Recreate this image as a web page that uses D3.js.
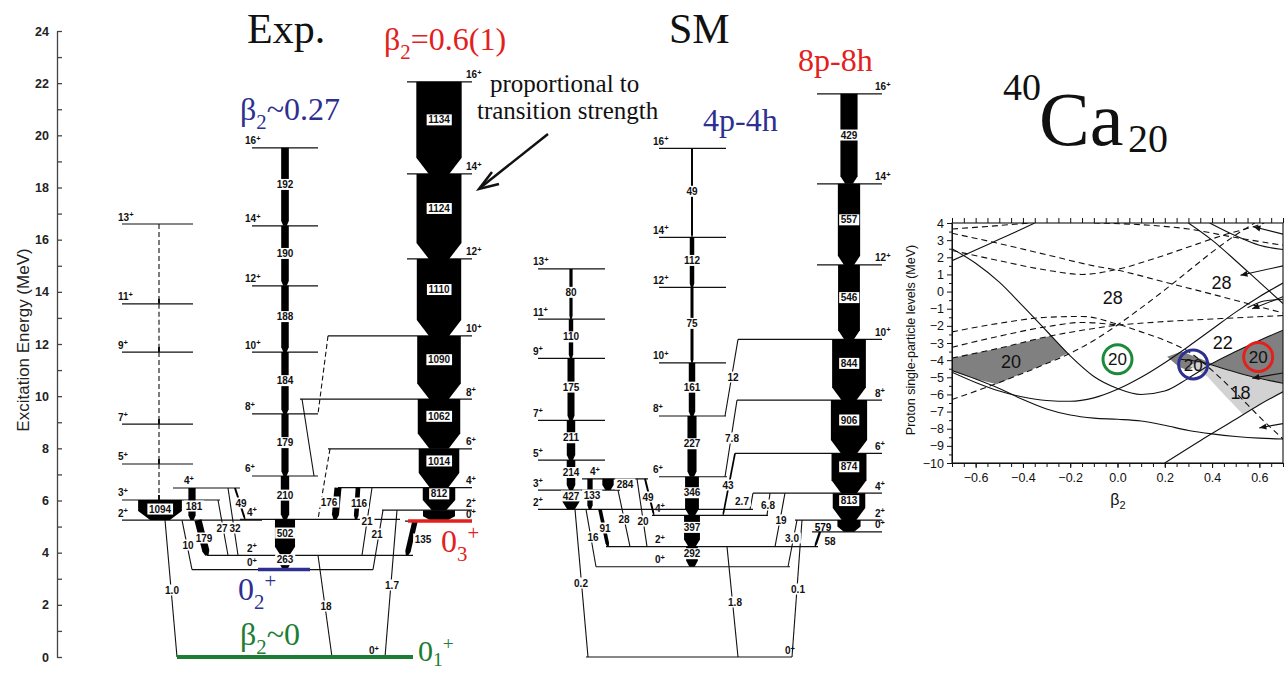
<!DOCTYPE html>
<html>
<head>
<meta charset="utf-8">
<script src="https://cdn.jsdelivr.net/npm/d3@7/dist/d3.min.js"></script>
<style>
html,body{margin:0;padding:0;background:#fff;}
svg{display:block;}
</style>
</head>
<body>
<svg id="chart" width="1286" height="673"></svg>
<script>
// ===================== level energies (MeV), spins, B(E2) (W.u.) =====================
const energyTickValues = d3.range(0, 25, 2);
const energyMinorTicks = d3.range(1, 24, 2);
const bandSpins = ["0+","2+","4+","6+","8+","10+","12+","14+","16+"];

// experiment
const expSideSpins = ["2+","3+","5+","7+","9+","11+","13+"];
const expSideE     = [5.25, 6.02, 7.40, 8.93, 11.69, 13.54, 16.60];
const expSide4Spins = ["4+"];
const expSide4E     = [6.48];
const expNDE   = [3.35, 3.90, 5.28, 6.94, 9.32, 11.69, 14.23, 16.53, 19.52];
const expNDBE2 = [263, 502, 210, 179, 184, 188, 190, 192];          // 2->0, 4->2, ...
const expNDLabels = ["263","502","210","179","184","188","190","192"];
const expSDE   = [5.21, 5.63, 6.49, 7.98, 9.89, 12.31, 15.26, 18.52, 22.05];
const expSDBE2 = [800, 812, 1014, 1062, 1090, 1110, 1124, 1134];
const expSDLabels = ["", "812","1014","1062","1090","1110","1124","1134"];
const expGroundE = [0];

// shell model
const smSideSpins = ["2+","3+","5+","7+","9+","11+","13+"];
const smSideE     = [5.66, 6.40, 7.55, 9.07, 11.45, 12.95, 14.88];
const smSideBE2   = [427, 214, 211, 175, 110, 80];                   // 3->2, 5->3, ...
const smSide4Spins = ["4+"];
const smSide4E     = [6.83];
const smNDE   = [3.46, 4.23, 5.43, 6.91, 9.24, 11.28, 14.17, 16.09, 19.50];
const smNDBE2 = [292, 397, 346, 227, 161, 75, 112, 49];
const smSDE   = [4.80, 5.25, 6.28, 7.81, 9.85, 12.18, 15.03, 18.14, 21.59];
const smSDBE2 = [579, 813, 874, 906, 844, 546, 557, 429];
const smGroundE = [0];

// transitions between bands: [from band, spin, to band, spin, B(E2), label, dashed]
const expLinks = [
  ["eS","3+","eS","2+",1094,"1094",false],
  ["eS4","4+","eS","2+",181,"181",false],
  ["eS","2+","eG","0+",1.0,"1.0",false],
  ["eS","2+","eN","0+",10,"10",false],
  ["eS","2+","eN","2+",179,"179",false],
  ["eS","3+","eN","2+",27,"27",false],
  ["eS4","4+","eN","2+",32,"32",false],
  ["eS4","4+","eN","4+",49,"49",false],
  ["eN","2+","eG","0+",18,"18",false],
  ["eD","4+","eN","4+",176,"176",false],
  ["eD","4+","eN","4+",116,"116",false],
  ["eD","4+","eN","2+",21,"21",false],
  ["eD","2+","eN","0+",21,"21",false],
  ["eD","2+","eG","0+",1.7,"1.7",false],
  ["eD","0+","eN","2+",135,"135",false],
  ["eD","6+","eN","4+",0,"",true],
  ["eD","8+","eN","6+",0,"",false],
  ["eD","10+","eN","8+",0,"",true]
];
const smLinks = [
  ["sS4","4+","sS","2+",133,"133",false],
  ["sS4","4+","sS","3+",284,"284",false],
  ["sS","2+","sG","0+",0.2,"0.2",false],
  ["sS","2+","sN","0+",16,"16",false],
  ["sS","2+","sN","2+",91,"91",false],
  ["sS","3+","sN","2+",28,"28",false],
  ["sS4","4+","sN","2+",20,"20",false],
  ["sS4","4+","sN","4+",49,"49",false],
  ["sN","2+","sG","0+",1.8,"1.8",false],
  ["sD","10+","sN","8+",12,"12",false],
  ["sD","8+","sN","6+",7.8,"7.8",false],
  ["sD","6+","sN","4+",43,"43",false],
  ["sD","4+","sS","2+",2.7,"2.7",false],
  ["sD","4+","sN","4+",6.8,"6.8",false],
  ["sD","4+","sN","2+",19,"19",false],
  ["sD","2+","sN","0+",3.0,"3.0",false],
  ["sD","2+","sG","0+",0.1,"0.1",false],
  ["sD","0+","sN","2+",58,"58",false]
];

// Nilsson diagram (beta2, MeV)
const nilssonSolid = [
  [[-0.7,1.8],[-0.6,2.42],[-0.5,3.05],[-0.42,3.55],[-0.35,4.0]],
  [[-0.7,2.5],[-0.6,1.65],[-0.5,0.55],[-0.4,-0.85],[-0.3,-2.3],[-0.2,-3.75],[-0.1,-4.95],[0,-5.65],[0.1,-6.0],[0.2,-5.8],[0.3,-5.05],[0.4,-4.2],[0.5,-3.5],[0.6,-2.85],[0.7,-2.25]],
  [[-0.7,-4.7],[-0.6,-5.3],[-0.5,-5.8],[-0.4,-6.15],[-0.3,-6.35],[-0.2,-6.4],[-0.1,-6.2],[0,-5.7],[0.1,-5.0],[0.2,-4.15],[0.3,-3.2],[0.4,-2.2],[0.5,-1.2],[0.6,-0.3],[0.7,0.5]],
  [[-0.7,-4.6],[-0.6,-5.1],[-0.5,-5.65],[-0.4,-6.3],[-0.3,-6.85],[-0.2,-7.2],[-0.1,-7.38],[0,-7.45],[0.1,-7.55],[0.2,-7.8],[0.3,-8.1],[0.4,-8.3],[0.5,-8.45],[0.6,-8.55],[0.7,-8.6]],
  [[0.2,-10],[0.35,-8.7],[0.5,-7.45],[0.6,-6.6],[0.7,-5.85]],
  [[0.3,4.0],[0.4,3.0],[0.5,1.8],[0.6,0.55],[0.7,-0.7]],
  [[0.39,4.0],[0.5,3.25],[0.6,2.7],[0.7,2.45]],
  [[0.26,-3.95],[0.35,-4.1],[0.45,-4.5],[0.55,-4.9],[0.7,-5.35]],
  [[0.55,-0.95],[0.62,-0.55],[0.7,-0.45]]
];
const nilssonDashed = [
  [[-0.7,3.65],[-0.55,3.8],[-0.37,4.0]],
  [[-0.7,3.4],[-0.5,2.8],[-0.3,2.15],[-0.1,1.5],[0,1.25],[0.2,0.55],[0.4,-0.15],[0.55,-0.7],[0.7,-1.25]],
  [[-0.7,2.4],[-0.5,1.8],[-0.3,1.25],[-0.15,1.0],[0,1.3],[0.15,1.9],[0.3,2.6],[0.45,3.3],[0.6,3.9],[0.62,4.0]],
  [[-0.1,4.0],[0.1,3.9],[0.3,3.65],[0.5,3.15],[0.7,2.7]],
  [[-0.7,-6.3],[-0.5,-5.3],[-0.3,-4.2],[-0.2,-3.6],[-0.1,-2.85],[0,-1.95],[0.1,-0.95],[0.2,0.1],[0.3,1.2],[0.4,2.3],[0.5,3.3],[0.58,4.0]],
  [[-0.7,-2.35],[-0.5,-1.85],[-0.3,-1.5],[-0.15,-1.45],[0,-1.9],[0.1,-2.35],[0.2,-2.85],[0.3,-3.5],[0.4,-4.6],[0.5,-5.9],[0.6,-7.3],[0.7,-8.6]],
  [[-0.7,-3.25],[-0.5,-2.6],[-0.3,-2.05],[-0.15,-1.8],[0,-1.95]],
  [[0,-1.95],[0.2,-1.75],[0.4,-1.6],[0.7,-1.4]],
  [[-0.7,-3.88],[-0.5,-3.3],[-0.28,-2.58],[-0.1,-2.15],[0,-1.95]]
];
const gapDark = [
  [[-0.7,-3.88],[-0.5,-3.3],[-0.28,-2.58],[-0.24,-3.15],[-0.21,-3.6],[-0.3,-4.2],[-0.4,-4.75],[-0.51,-5.4],[-0.6,-5.1],[-0.7,-4.65]],
  [[0.21,-3.8],[0.27,-3.5],[0.33,-3.8],[0.4,-4.2],[0.5,-3.5],[0.6,-2.85],[0.7,-2.25],[0.7,-5.35],[0.55,-4.9],[0.45,-4.5],[0.35,-4.1],[0.3,-4.6],[0.26,-4.4]]
];
const gapLight = [
  [[0.3,-4.3],[0.35,-4.1],[0.45,-4.5],[0.55,-4.9],[0.7,-5.35],[0.7,-5.85],[0.6,-6.6],[0.53,-7.15],[0.45,-6.0],[0.38,-4.95]]
];
const gapLabels = [["28",-0.02,-0.35],["28",0.44,0.5],["22",0.445,-3.0],["20",-0.45,-4.1],["18",0.52,-5.9]];
const circledGaps = [["20",0.0,-3.95,"#1d8a3a"],["20",0.32,-4.25,"#2d2f91"],["20",0.595,-3.82,"#e3211c"]];
const nilssonArrows = [
  [[0.7,3.35],[0.575,3.78]],
  [[0.7,1.5],[0.52,0.95]],
  [[0.7,-0.3],[0.57,-1.0]],
  [[0.7,-4.75],[0.57,-5.05]],
  [[0.7,-7.7],[0.6,-7.95]]
];
const betaTicks = [-0.6,-0.4,-0.2,0.0,0.2,0.4,0.6];
const levelTicks = d3.range(-10, 5, 1);

// ===================== drawing =====================
const SANS = '"Liberation Sans", Arial, Helvetica, sans-serif';
const SERIF = '"Liberation Serif", "Times New Roman", serif';
const BLUE = "#2d2f91", RED = "#e3211c", GREEN = "#1d7d33";

const svg = d3.select("#chart");
const yE = d3.scaleLinear().domain([0, 24]).range([657, 31]);
const wB = d3.scaleLinear().domain([0, 1000]).range([0, 40]);   // line width ~ transition strength

// energy axis
const axG = svg.append("g").attr("transform", "translate(57,0)");
axG.call(d3.axisLeft(yE).tickValues(energyTickValues).tickSize(-5).tickSizeOuter(0).tickPadding(8).tickFormat(d3.format("d")));
axG.append("g").call(d3.axisLeft(yE).tickValues(energyMinorTicks).tickSize(-5).tickSizeOuter(0).tickFormat(""))
   .call(g => g.select(".domain").remove());
axG.selectAll("path,line").attr("stroke", "#444").attr("stroke-width", 1.3);
axG.selectAll("text").attr("font-family", SANS).attr("font-size", 12.5).attr("font-weight", "bold").attr("fill", "#222");
svg.append("text").attr("transform", "translate(29,340) rotate(-90)")
   .attr("text-anchor", "middle").attr("font-family", SANS).attr("font-size", 17).attr("fill", "#222")
   .text("Excitation Energy (MeV)");

// band registry
const levels = {};
function addBand(key, spins, Es) { levels[key] = {}; spins.forEach((s, i) => levels[key][s] = Es[i]); }
addBand("eS", expSideSpins, expSideE);
addBand("eS4", expSide4Spins, expSide4E);
addBand("eN", bandSpins, expNDE);
addBand("eD", bandSpins, expSDE);
addBand("eG", ["0+"], expGroundE);
addBand("sS", smSideSpins, smSideE);
addBand("sS4", smSide4Spins, smSide4E);
addBand("sN", bandSpins, smNDE);
addBand("sD", bandSpins, smSDE);
addBand("sG", ["0+"], smGroundE);

const bandLayout = {
  eS: {x1:122, x2:193, cx:160, lx:118}, eS4: {x1:173, x2:240, lx:184},
  eN: {x1:252, x2:318, cx:285, lx:245}, eD: {x1:407, x2:472, cx:439, lx:466},
  eG: {x1:177, x2:413, lx:369},
  sS: {x1:538, x2:605, cx:571, lx:533}, sS4: {x1:582, x2:648, lx:590},
  sN: {x1:659, x2:726, cx:692, lx:653}, sD: {x1:817, x2:882, cx:849, lx:875},
  sG: {x1:586, x2:792, lx:785}
};
const levelExtent = {
  "eS:2+":[122,262], "eS:3+":[122,220], "eN:0+":[192,373], "eN:2+":[207,413], "eN:4+":[240,400],
  "eD:0+":[405,472], "eD:2+":[382,472], "eD:4+":[338,472], "eD:6+":[328,472], "eD:8+":[300,472], "eD:10+":[328,472],
  "sS:2+":[538,753], "sS:3+":[538,620], "sN:0+":[596,790], "sN:2+":[606,818], "sN:4+":[652,768], "sN:6+":[659,727],
  "sD:0+":[812,882], "sD:2+":[795,882], "sD:4+":[753,882], "sD:6+":[735,882], "sD:8+":[737,882], "sD:10+":[738,882]
};
const levelLabelX = {"eN:0+":247, "eN:2+":247, "eN:4+":247, "sN:0+":655, "sN:2+":655, "sN:4+":655};
const linkX = {
  exp: [[160,160],[192,192],[165,177],[182,192],[198,207],[218,228],[228,238],[235,245],[318,332],[338,335],[358,356],[372,362],[383,373],[397,385],[415,407],[330,318],[302,314],[328,318]],
  sm:  [[590,590],[608,608],[575,588],[586,596],[600,608],[618,630],[637,647],[645,654],[727,738],[738,725],[737,725],[735,723],[753,750],[770,767],[785,775],[797,788],[802,792],[820,815]]
};
const linkLabelPos = {
  exp: [null,[194,506],[172,590],[188,545],[204,538],[222,528],[235,528],[241,503],[326,606],[329,502],[359,503],[367,521],[377,534],[392,585],[423,539],null,null,null],
  sm:  [[592,495],[625,484],[581,583],[593,537],[605,528],[624,519],[643,521],[648,497],[735,602],[733,377],[732,438],[728,485],[742,501],[768,505],[781,520],[792,538],[798,589],[830,541]]
};

const gLevels = svg.append("g");
const gBars = svg.append("g");
const gText = svg.append("g");

function spinLabel(x, y, spin) {
  const t = gText.append("text").attr("x", x).attr("y", y)
    .attr("font-family", SANS).attr("font-size", 10).attr("font-weight", "bold").attr("fill", "#111");
  t.append("tspan").text(spin.slice(0, -1));
  t.append("tspan").attr("font-size", 7.5).attr("dy", -3.5).text(spin.slice(-1));
}

function boxedLabel(x, yc, txt, size) {
  const t = gText.append("text").attr("x", x).attr("y", yc).attr("dy", "0.36em")
    .attr("text-anchor", "middle").attr("font-family", SANS).attr("font-size", size || 10)
    .attr("font-weight", "bold").attr("fill", "#111").text(txt);
  const bb = t.node().getBBox();
  gText.insert("rect", () => t.node())
    .attr("x", bb.x - 1.5).attr("y", yc - 5.5).attr("width", bb.width + 3).attr("height", 11).attr("fill", "#fff");
}

// level lines
Object.keys(levels).forEach(band => {
  const L = bandLayout[band];
  Object.keys(levels[band]).forEach(spin => {
    const key = band + ":" + spin;
    const ext = levelExtent[key] || [L.x1, L.x2];
    const yy = yE(levels[band][spin]);
    gLevels.append("line").attr("x1", ext[0]).attr("x2", ext[1]).attr("y1", yy).attr("y2", yy)
      .attr("stroke", "#111").attr("stroke-width", 1.2);
    if (band === "eG" || band === "sG") spinLabel(L.lx, yy - 3, spin);
    else spinLabel(levelLabelX[key] !== undefined ? levelLabelX[key] : L.lx, yy - 3.5, spin);
  });
});

// transition shape: band proportional to strength with tapered arrow head
function transition(x1, y1, x2, y2, w, dashed) {
  if (dashed) {
    gBars.append("line").attr("x1", x1).attr("y1", y1).attr("x2", x2).attr("y2", y2)
      .attr("stroke", "#111").attr("stroke-width", 1.1).attr("stroke-dasharray", "5,3");
    return;
  }
  if (w <= 1.6) {
    gBars.append("line").attr("x1", x1).attr("y1", y1).attr("x2", x2).attr("y2", y2)
      .attr("stroke", "#111").attr("stroke-width", 1.1);
    return;
  }
  const dx = x2 - x1, dy = y2 - y1, L = Math.hypot(dx, dy);
  const ux = dx / L, uy = dy / L, nx = -uy, ny = ux;
  const h = Math.min(0.3 * w + 2.5, L * 0.45), tip = w * 0.45;
  const bx = x2 - ux * h, by = y2 - uy * h;
  const pts = [
    [x1 + nx * w / 2, y1 + ny * w / 2], [bx + nx * w / 2, by + ny * w / 2],
    [x2 + nx * tip / 2, y2 + ny * tip / 2], [x2 - nx * tip / 2, y2 - ny * tip / 2],
    [bx - nx * w / 2, by - ny * w / 2], [x1 - nx * w / 2, y1 - ny * w / 2]
  ];
  gBars.append("path").attr("d", "M" + pts.map(p => p.join(",")).join("L") + "Z").attr("fill", "#000");
  return h;
}

// in-band cascades
function cascade(band, values, labels, labelPos) {
  const L = bandLayout[band];
  const spins = Object.keys(levels[band]);
  values.forEach((v, i) => {
    const Eb = levels[band][spins[i]], Et = levels[band][spins[i + 1]];
    const y1 = yE(Et), y2 = yE(Eb), w = wB(v);
    const h = transition(L.cx, y1, L.cx, y2, w, false);
    const txt = labels ? labels[i] : String(v);
    if (!txt) return;
    if (labelPos && labelPos[i]) {
      gText.append("text").attr("x", labelPos[i][0]).attr("y", labelPos[i][1]).attr("text-anchor", "middle")
        .attr("font-family", SANS).attr("font-size", 10).attr("font-weight", "bold").text(txt);
    } else boxedLabel(L.cx, (y1 + y2 - h) / 2, txt);
  });
}
cascade("eN", expNDBE2, expNDLabels);
cascade("eD", expSDBE2, expSDLabels);
cascade("sS", smSideBE2);
cascade("sN", smNDBE2);
cascade("sD", smSDBE2, null, {0: [823, 531]});

// dashed side-band sequence
(function () {
  const spins = Object.keys(levels.eS);
  for (let i = 1; i < spins.length - 1; i++) {
    const y1 = yE(levels.eS[spins[i + 1]]), y2 = yE(levels.eS[spins[i]]);
    gBars.append("line").attr("x1", 159).attr("x2", 159).attr("y1", y1).attr("y2", y2 - 4)
      .attr("stroke", "#111").attr("stroke-width", 1.1).attr("stroke-dasharray", "5,3");
    gBars.append("line").attr("x1", 159).attr("x2", 159).attr("y1", y2 - 5).attr("y2", y2)
      .attr("stroke", "#111").attr("stroke-width", 2);
  }
})();

// inter-band transitions
function drawLinks(list, xs, lps) {
  list.forEach((d, i) => {
    const [fb, fs, tb, ts, v, lab, dashed] = d;
    const y1 = yE(levels[fb][fs]), y2 = yE(levels[tb][ts]);
    transition(xs[i][0], y1, xs[i][1], y2, Math.max(1, wB(v)), dashed);
    if (lab && lps[i]) boxedLabel(lps[i][0], lps[i][1], lab);
  });
}
drawLinks(expLinks, linkX.exp, linkLabelPos.exp);
drawLinks(smLinks, linkX.sm, linkLabelPos.sm);
// the 1094 label sits in the wide side-band arrow
boxedLabel(160, yE(5.25) - 11, "1094");

// coloured band heads
gText.append("line").attr("x1", 177).attr("x2", 413).attr("y1", yE(0)).attr("y2", yE(0)).attr("stroke", GREEN).attr("stroke-width", 4);
gText.append("line").attr("x1", 258).attr("x2", 310).attr("y1", yE(expNDE[0])).attr("y2", yE(expNDE[0])).attr("stroke", BLUE).attr("stroke-width", 3.5);
gText.append("line").attr("x1", 408).attr("x2", 472).attr("y1", yE(expSDE[0])).attr("y2", yE(expSDE[0])).attr("stroke", RED).attr("stroke-width", 3.5);

// serif annotations
function serif(x, y, size, color, parts, subShift) {
  const t = svg.append("text").attr("x", x).attr("y", y).attr("font-family", SERIF)
    .attr("font-size", size).attr("fill", color);
  let shift = 0;
  parts.forEach(p => {
    const [s, mode] = Array.isArray(p) ? p : [p, ""];
    const target = mode === "sub" ? size * (subShift || 0.28) : mode === "sup" ? -size * 0.38 : 0;
    const ts = t.append("tspan").attr("dy", target - shift).text(s);
    if (mode) ts.attr("font-size", size * 0.65);
    shift = target;
  });
  return t;
}
serif(247, 43, 42, "#111", ["Exp."]);
serif(669, 43, 42, "#111", ["SM"]);
serif(384, 50, 32, RED, ["β", ["2","sub"], "=0.6(1)"]);
serif(240, 120, 32, BLUE, ["β", ["2","sub"], "~0.27"]);
serif(703, 131, 32, BLUE, ["4p-4h"]);
serif(798, 71, 32, RED, ["8p-8h"]);
serif(490, 92, 25, "#111", ["proportional to"]);
serif(477, 119, 25, "#111", ["transition strength"]);
serif(238, 600, 32, BLUE, ["0", ["2","sub"], ["+","sup"]]);
serif(441, 552, 32, RED, ["0", ["3","sub"], ["+","sup"]]);
serif(418, 661, 30, GREEN, ["0", ["1","sub"], ["+","sup"]], 0.16);
serif(240, 645, 32, GREEN, ["β", ["2","sub"], "~0"]);

// pointer arrow
svg.append("line").attr("x1", 548).attr("y1", 134).attr("x2", 480).attr("y2", 188).attr("stroke", "#111").attr("stroke-width", 2.5);
svg.append("path").attr("d", "M492,172 L479,189 L499,184").attr("fill", "none").attr("stroke", "#111").attr("stroke-width", 2.5);

// nucleus label
const nuc = svg.append("text").attr("font-family", SERIF).attr("fill", "#111");
nuc.append("tspan").attr("x", 1003).attr("y", 100).attr("font-size", 38).text("40");
nuc.append("tspan").attr("x", 1039).attr("y", 145).attr("font-size", 76).text("Ca");
nuc.append("tspan").attr("x", 1128).attr("y", 152).attr("font-size", 40).text("20");

// ===================== Nilsson inset =====================
const bx = d3.scaleLinear().domain([-0.7, 0.7]).range([952, 1283]);
const by = d3.scaleLinear().domain([-10, 4]).range([463, 223]);
const ins = svg.append("g");
ins.append("clipPath").attr("id", "insClip").append("rect")
  .attr("x", 952).attr("y", 223).attr("width", 331).attr("height", 240);
const plot = ins.append("g").attr("clip-path", "url(#insClip)");
const poly = d3.line().x(d => bx(d[0])).y(d => by(d[1]));
gapDark.forEach(p => plot.append("path").attr("d", poly(p) + "Z").attr("fill", "#808080"));
gapLight.forEach(p => plot.append("path").attr("d", poly(p) + "Z").attr("fill", "#d2d2d2"));
const curve = d3.line().x(d => bx(d[0])).y(d => by(d[1])).curve(d3.curveMonotoneX);
nilssonSolid.forEach(c => plot.append("path").attr("d", curve(c)).attr("fill", "none").attr("stroke", "#111").attr("stroke-width", 1.1));
nilssonDashed.forEach(c => plot.append("path").attr("d", curve(c)).attr("fill", "none").attr("stroke", "#111").attr("stroke-width", 1.1).attr("stroke-dasharray", "6,4"));
nilssonArrows.forEach(([a, b]) => {
  const x1 = bx(a[0]), y1 = by(a[1]), x2 = bx(b[0]), y2 = by(b[1]);
  const ang = Math.atan2(y2 - y1, x2 - x1);
  plot.append("line").attr("x1", x1).attr("y1", y1).attr("x2", x2).attr("y2", y2).attr("stroke", "#111").attr("stroke-width", 1.1);
  const s = 7, wdt = 3;
  const p1 = [x2 - s * Math.cos(ang) + wdt * Math.sin(ang), y2 - s * Math.sin(ang) - wdt * Math.cos(ang)];
  const p2 = [x2 - s * Math.cos(ang) - wdt * Math.sin(ang), y2 - s * Math.sin(ang) + wdt * Math.cos(ang)];
  plot.append("path").attr("d", `M${x2},${y2}L${p1}L${p2}Z`).attr("fill", "#111");
});
gapLabels.forEach(([t, b, e]) => plot.append("text").attr("x", bx(b)).attr("y", by(e)).attr("dy", "0.36em")
  .attr("text-anchor", "middle").attr("font-family", SANS).attr("font-size", 18).attr("fill", "#111").text(t));
circledGaps.forEach(([t, b, e, col]) => {
  plot.append("circle").attr("cx", bx(b)).attr("cy", by(e)).attr("r", 14.5).attr("fill", "none").attr("stroke", col).attr("stroke-width", 3);
  plot.append("text").attr("x", bx(b)).attr("y", by(e)).attr("dy", "0.36em").attr("text-anchor", "middle")
    .attr("font-family", SANS).attr("font-size", 17).attr("fill", "#111").text(t);
});
ins.append("rect").attr("x", 952).attr("y", 223).attr("width", 331).attr("height", 240)
  .attr("fill", "none").attr("stroke", "#111").attr("stroke-width", 1.1);

// inset axes
const xMinor = d3.range(-0.7, 0.7001, 0.05).map(v => +v.toFixed(2));
const xAx = ins.append("g").attr("transform", "translate(0,463)")
  .call(d3.axisBottom(bx).tickValues(betaTicks).tickSize(5).tickSizeOuter(0).tickPadding(5).tickFormat(d3.format(".1f")));
ins.append("g").attr("transform", "translate(0,463)")
  .call(d3.axisBottom(bx).tickValues(xMinor).tickSize(4).tickFormat("")).call(g => g.select(".domain").remove());
ins.append("g").attr("transform", "translate(0,223)")
  .call(d3.axisTop(bx).tickValues(xMinor).tickSize(5).tickFormat("")).call(g => g.select(".domain").remove());
const yAx = ins.append("g").attr("transform", "translate(952,0)")
  .call(d3.axisLeft(by).tickValues(levelTicks).tickSize(5).tickSizeOuter(0).tickPadding(3).tickFormat(d3.format("d")));
ins.append("g").attr("transform", "translate(952,0)")
  .call(d3.axisLeft(by).tickValues(d3.range(-9.5, 4, 1)).tickSize(3).tickFormat("")).call(g => g.select(".domain").remove());
ins.selectAll(".tick line").attr("stroke", "#111");
ins.selectAll(".domain").attr("stroke", "#111");
xAx.selectAll("text").attr("font-family", SANS).attr("font-size", 12.5).attr("fill", "#111");
yAx.selectAll("text").attr("font-family", SANS).attr("font-size", 12.5).attr("fill", "#111");
const bl = ins.append("text").attr("x", 1118).attr("y", 505).attr("text-anchor", "middle")
  .attr("font-family", SANS).attr("font-size", 16).attr("fill", "#111");
bl.append("tspan").text("β");
bl.append("tspan").attr("font-size", 11).attr("dy", 4).text("2");
ins.append("text").attr("transform", "translate(915,340) rotate(-90)").attr("text-anchor", "middle")
  .attr("font-family", SANS).attr("font-size", 12.5).attr("fill", "#111").text("Proton single-particle levels (MeV)");
</script>
</body>
</html>
